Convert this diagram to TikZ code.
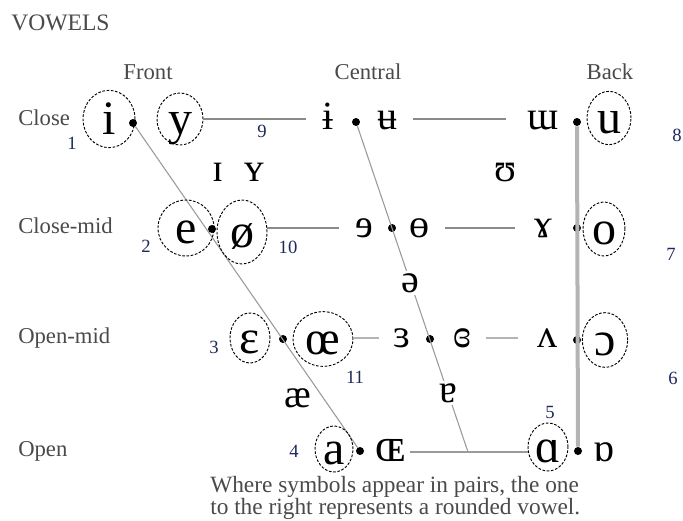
\documentclass[tikz,border=0pt]{standalone}
\usepackage{fontspec}
\setmainfont{Liberation Serif}
\usetikzlibrary{shapes.geometric}
\definecolor{numblue}{HTML}{1C2A5E}
\definecolor{labgray}{HTML}{4A4A4A}
\definecolor{linegray}{HTML}{8A8A8A}
\definecolor{lightline}{HTML}{B4B4B4}
\definecolor{diagline}{HTML}{9A9A9A}
\tikzset{
  sym/.style={font=\fontsize{30}{30}\selectfont, inner sep=0pt, text height=14pt, text depth=0pt},
  csym/.style={draw, dashed, dash pattern=on 2pt off 1.2pt, line width=0.7pt, ellipse, inner sep=0pt,
     font=\fontsize{36}{36}\selectfont, text height=23pt, text depth=0pt},
  vdot/.style={circle, fill=black, inner sep=0pt, minimum size=6pt},
  num/.style={font=\fontsize{14}{14}\selectfont, text=numblue, inner sep=0pt},
  lab/.style={font=\fontsize{17}{17}\selectfont, text=labgray, inner sep=0pt},
  captxt/.style={font=\fontsize{17.5}{17.5}\selectfont, text=labgray, inner sep=0pt, anchor=base west},
  diagl/.style={draw=diagline, line width=0.8pt},
  thinl/.style={draw=linegray, line width=1.3pt},
  midl/.style={draw=lightline, line width=2.2pt},
  openl/.style={draw=diagline, line width=2.2pt},
  backl/.style={draw=lightline, line width=3pt},
}
\begin{document}
\begin{tikzpicture}[x=0.75pt,y=-0.75pt]
\useasboundingbox[fill=white] (0,0) rectangle (683,521);
% labels
\node[lab, anchor=west, font=\fontsize{17.7}{17.7}\selectfont] (title) at (11,23) {VOWELS};
\node[lab] (front) at (148,72) {Front};
\node[lab] (central) at (368,72) {Central};
\node[lab] (back) at (610,72) {Back};
\node[lab, anchor=west] (lclose) at (18,118) {Close};
\node[lab, anchor=west] (lclosemid) at (18,226) {Close-mid};
\node[lab, anchor=west] (lopenmid) at (18,338) {Open-mid};
\node[lab, anchor=west] (lopen) at (18,451) {Open};
% dots
\node[vdot] (d1) at (133,123) {};
\node[vdot] (dc1) at (356,122) {};
\node[vdot] (db1) at (577,122) {};
\node[vdot] (d2) at (212,229) {};
\node[vdot] (dc2) at (392,228) {};
\node[vdot] (db2) at (577,228) {};
\node[vdot] (d3) at (283,339) {};
\node[vdot] (dc3) at (430,339) {};
\node[vdot] (db3) at (577,340) {};
\node[vdot] (d4) at (360,451) {};
\node[vdot] (db4) at (578,451) {};
\coordinate (cbot) at (468,452);
% diagonals and back line
\draw[diagl] (d1) -- (d4);
\draw[diagl] (dc1) -- (cbot);
\draw[backl] (db1) -- (db4);
% close row
\node[csym, minimum width=39pt, minimum height=43pt] (i) at (109,119) {i};
\node[csym, minimum width=34.5pt, minimum height=39pt] (y) at (180,119) {y};
\node[sym] (ibar) at (328,120) {ɨ};
\node[sym] (ubar) at (387,120) {ʉ};
\node[sym] (turnm) at (543,120) {ɯ};
\node[csym, minimum width=33pt, minimum height=40pt] (u) at (609,118) {u};
\draw[thinl] (y.east) -- ([xshift=-12pt]ibar.west |- y.east);
\draw[thinl] ([xshift=12pt]ubar.east |- y.east) -- ([xshift=-16pt]turnm.west |- y.east);
% near-close
\node[sym] (smalli) at (218,172) {ɪ};
\node[sym] (smally) at (254,172) {ʏ};
\node[sym] (upsilon) at (505,172) {ʊ};
% close-mid
\node[csym, minimum width=42pt, minimum height=42pt] (e) at (186,228) {e};
\node[csym, minimum width=37.5pt, minimum height=48pt] (oslash) at (242,232) {ø};
\node[sym] (reve) at (364,228) {ɘ};
\node[sym] (baro) at (419,228) {ɵ};
\node[sym] (ramshorn) at (543,228) {ɤ};
\node[csym, minimum width=31.5pt, minimum height=40.5pt] (o) at (604,229) {o};
\draw[thinl] (oslash.east |- reve.west) -- ([xshift=-12pt]reve.west);
\draw[thinl] ([xshift=12pt]baro.east) -- ([xshift=-14pt]ramshorn.west |- baro.east);
% mid
\node[sym, fill=white, inner sep=2pt] (schwa) at (410,283) {ə};
% open-mid
\node[csym, minimum width=30pt, minimum height=37.5pt] (epsilon) at (250,338) {ɛ};
\node[csym, minimum width=45pt, minimum height=41pt] (oe) at (323,339) {œ};
\node[sym] (reveps) at (402,338) {ɜ};
\node[sym] (closedeps) at (462,338) {ɞ};
\node[sym] (turnv) at (547,338) {ʌ};
\node[csym, minimum width=34pt, minimum height=41pt] (openo) at (605,340) {ɔ};
\draw[midl] (oe.east |- reveps.west) -- ([xshift=-11pt]reveps.west);
\draw[midl] ([xshift=11pt]closedeps.east) -- ([xshift=-14pt]turnv.west |- closedeps.east);
% near-open
\node[sym] (ash) at (298,398) {æ};
\node[sym, fill=white, inner sep=2pt] (turna) at (448,393) {ɐ};
% open
\node[csym, minimum width=28.5pt, minimum height=34.5pt] (a) at (334,449) {a};
\node[sym, font=\fontsize{36}{36}\selectfont] (smalloe) at (391,452) {ɶ};
\node[csym, minimum width=30pt, minimum height=36pt] (alpha) at (548,447) {ɑ};
\node[sym] (turnalpha) at (604,452) {ɒ};
\draw[openl] ([xshift=3pt]smalloe.east) -- (alpha.west |- smalloe.east);
% numbers
\node[num] (n1) at (72,143) {1};
\node[num] (n9) at (262,131) {9};
\node[num] (n8) at (677,135) {8};
\node[num] (n2) at (146,246) {2};
\node[num] (n10) at (288,247) {10};
\node[num] (n7) at (671,254) {7};
\node[num] (n3) at (214,347) {3};
\node[num] (n11) at (355,377) {11};
\node[num] (n6) at (673,378) {6};
\node[num] (n4) at (294,451) {4};
\node[num] (n5) at (550,412) {5};
% caption
\node[captxt] (caption1) at (210,492) {Where symbols appear in pairs, the one};
\node[captxt] (caption2) at (210,514) {to the right represents a rounded vowel.};
\end{tikzpicture}
\end{document}
